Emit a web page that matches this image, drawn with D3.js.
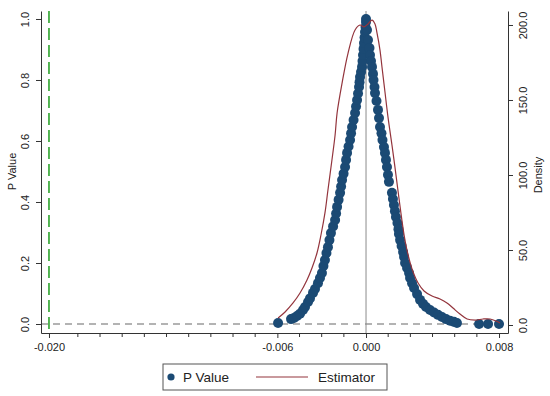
<!DOCTYPE html>
<html>
<head>
<meta charset="utf-8">
<script src="https://cdn.jsdelivr.net/npm/d3@7"></script>
<style>
  body { margin: 0; background: #fff; }
  text { font-family: "Liberation Sans", Arial, sans-serif; fill: #222; }
</style>
</head>
<body>
<svg id="chart" width="550" height="396"></svg>
<script>
// estimates and their p values
var pEstimates = [
  -0.00529, -0.00451, -0.00433, -0.00415, -0.00397, -0.00379, -0.00367, -0.00349, -0.00337, -0.00319,
  -0.00307, -0.00289, -0.00277, -0.00265, -0.00256, -0.00247, -0.00238, -0.00229, -0.00220, -0.00211,
  -0.00198, -0.00186, -0.00180, -0.00174, -0.00165, -0.00156, -0.00150, -0.00144, -0.00135, -0.00126,
  -0.00120, -0.00114, -0.00105, -0.00096, -0.00090, -0.00084, -0.00075, -0.00066, -0.00060, -0.00054,
  -0.00048, -0.00042, -0.00039, -0.00036, -0.00030, -0.00024, -0.00021, -0.00018, -0.00015, -0.00012,
  -0.00009, -0.00006, -0.00003, 0.00000, 0.00000,
  0.00006, 0.00012, 0.00021, 0.00024, 0.00030, 0.00036, 0.00042, 0.00045, 0.00051, 0.00054,
  0.00063, 0.00072, 0.00078, 0.00084, 0.00093, 0.00099, 0.00108, 0.00114, 0.00120, 0.00126,
  0.00132, 0.00138, 0.00156, 0.00162, 0.00168, 0.00174, 0.00180, 0.00189, 0.00195, 0.00198,
  0.00205, 0.00214, 0.00223, 0.00229, 0.00235, 0.00247, 0.00259, 0.00265, 0.00277, 0.00289,
  0.00307, 0.00325, 0.00343, 0.00361, 0.00385, 0.00409, 0.00433, 0.00457, 0.00481, 0.00505,
  0.00529, 0.00547, 0.00680, 0.00734, 0.00800
];
var pValues = [
  0.003, 0.016, 0.020, 0.026, 0.034, 0.046, 0.056, 0.072, 0.084, 0.102,
  0.115, 0.134, 0.151, 0.167, 0.190, 0.210, 0.233, 0.252, 0.275, 0.298,
  0.320, 0.341, 0.362, 0.384, 0.407, 0.430, 0.451, 0.472, 0.493, 0.515,
  0.538, 0.561, 0.582, 0.603, 0.625, 0.646, 0.669, 0.692, 0.713, 0.734,
  0.756, 0.777, 0.793, 0.810, 0.826, 0.843, 0.862, 0.882, 0.902, 0.921,
  0.939, 0.957, 0.974, 0.990, 1.000,
  0.964, 0.931, 0.905, 0.882, 0.862, 0.843, 0.820, 0.800, 0.777, 0.757,
  0.731, 0.702, 0.675, 0.646, 0.625, 0.603, 0.580, 0.561, 0.538, 0.515,
  0.489, 0.466, 0.430, 0.410, 0.390, 0.370, 0.351, 0.331, 0.311, 0.295,
  0.275, 0.256, 0.236, 0.220, 0.200, 0.184, 0.167, 0.151, 0.134, 0.118,
  0.098, 0.079, 0.066, 0.056, 0.046, 0.038, 0.030, 0.023, 0.016, 0.011,
  0.007, 0.003, 0.000, 0.000, 0.000
];

// kernel density of the estimator
var densityX = [
  -0.00529, -0.00487, -0.00439, -0.00397, -0.00355, -0.00325, -0.00295, -0.00271, -0.00247, -0.00229,
  -0.00205, -0.00186, -0.00174, -0.00144, -0.00108, -0.00066, -0.00036, -0.00012, 0.00012, 0.00036,
  0.00054, 0.00066, 0.00084, 0.00096, 0.00114, 0.00132, 0.00156, 0.00174, 0.00205, 0.00229,
  0.00253, 0.00283, 0.00313, 0.00349, 0.00397, 0.00445, 0.00487, 0.00523, 0.00565, 0.00608,
  0.00656, 0.00704, 0.00746, 0.00782, 0.00806
];
var densityY = [
  4.7, 8.7, 14.7, 21.3, 30.0, 38.0, 48.0, 60.0, 74.7, 90.0,
  110.0, 126.7, 141.3, 161.3, 181.3, 196.7, 200.0, 198.7, 200.7, 203.3,
  200.7, 194.7, 183.3, 172.0, 155.3, 138.7, 120.0, 105.3, 78.7, 60.0,
  46.7, 35.3, 28.0, 22.7, 19.3, 17.3, 14.7, 11.3, 7.3, 4.0,
  3.3, 4.0, 4.0, 2.7, 1.3
];

// axis labels
var xTickValues = [-0.01907, -0.005333, 0, 0.008];
var xTickLabels = ["-0.020", "-0.006", "0.000", "0.008"];
var xMinorTicks = [-0.017333, -0.016, -0.014667, -0.013333, -0.012, -0.010667, -0.009333, -0.008,
  -0.006667, -0.004, -0.002667, -0.001333, 0.001333, 0.002667, 0.004, 0.005333, 0.006667];
var pTicks = [0, 0.2, 0.4, 0.6, 0.8, 1.0];
var densityTicks = [0, 50, 100, 150, 200];
var thresholdX = -0.01907;

var svg = d3.select("#chart");
var plotLeft = 41, plotRight = 508, plotTop = 11, plotBottom = 333;

var x = d3.scaleLinear().domain([-0.01955, 0.00854]).range([plotLeft, plotRight]);
var yP = d3.scaleLinear().domain([-0.0295, 1.0262]).range([plotBottom, plotTop]);
var yD = d3.scaleLinear().domain([-5.33, 209.33]).range([plotBottom, plotTop]);

// reference lines
svg.append("line")
  .attr("x1", plotLeft).attr("x2", plotRight)
  .attr("y1", yP(0)).attr("y2", yP(0))
  .attr("stroke", "#9a9a9a").attr("stroke-width", 1.3)
  .attr("stroke-dasharray", "7,5");

svg.append("line")
  .attr("x1", x(0)).attr("x2", x(0))
  .attr("y1", plotTop).attr("y2", plotBottom)
  .attr("stroke", "#8c8c8c").attr("stroke-width", 1);

svg.append("line")
  .attr("x1", x(thresholdX)).attr("x2", x(thresholdX))
  .attr("y1", plotTop).attr("y2", plotBottom)
  .attr("stroke", "#1f9e1f").attr("stroke-width", 1.5)
  .attr("stroke-dasharray", "12,5");

// p value markers
var pts = pEstimates.map(function(d, i) { return [d, pValues[i]]; });
svg.append("g").selectAll("circle")
  .data(pts)
  .enter().append("circle")
  .attr("cx", function(d) { return x(d[0]); })
  .attr("cy", function(d) { return yP(d[1]); })
  .attr("r", 5)
  .attr("fill", "#1b4a74");

// density line
var line = d3.line()
  .x(function(d) { return x(d[0]); })
  .y(function(d) { return yD(d[1]); })
  .curve(d3.curveCatmullRom);

svg.append("path")
  .datum(densityX.map(function(d, i) { return [d, densityY[i]]; }))
  .attr("d", line)
  .attr("fill", "none")
  .attr("stroke", "#93343c")
  .attr("stroke-width", 1.2);

// axes
function styleAxis(g) {
  g.selectAll("path, line").attr("stroke", "#333");
  g.selectAll("text").style("font-size", "11px").attr("fill", "#222");
}

var gx = svg.append("g")
  .attr("transform", "translate(0," + plotBottom + ")")
  .call(d3.axisBottom(x).tickValues(xTickValues)
    .tickFormat(function(d, i) { return xTickLabels[i]; })
    .tickSize(5).tickSizeOuter(0));
gx.selectAll("line.minor")
  .data(xMinorTicks)
  .enter().append("line")
  .attr("class", "minor")
  .attr("x1", function(d) { return x(d); }).attr("x2", function(d) { return x(d); })
  .attr("y1", 0).attr("y2", 4);
styleAxis(gx);
gx.selectAll("text").attr("dy", "0.9em");

var gl = svg.append("g")
  .attr("transform", "translate(" + plotLeft + ",0)")
  .call(d3.axisLeft(yP).tickValues(pTicks).tickFormat(d3.format(".1f"))
    .tickSize(5).tickSizeOuter(0));
styleAxis(gl);
gl.selectAll(".tick text")
  .attr("x", null).attr("dy", null)
  .attr("text-anchor", "middle")
  .attr("transform", "translate(-12,0) rotate(-90)");

var gr = svg.append("g")
  .attr("transform", "translate(" + plotRight + ",0)")
  .call(d3.axisRight(yD).tickValues(densityTicks).tickFormat(d3.format(".1f"))
    .tickSize(5).tickSizeOuter(0));
styleAxis(gr);
gr.selectAll(".tick text")
  .attr("x", null).attr("dy", null)
  .attr("text-anchor", "middle")
  .attr("transform", "translate(19,0) rotate(-90)");

// axis titles
svg.append("text")
  .attr("transform", "translate(16," + yP(0.5) + ") rotate(-90)")
  .attr("text-anchor", "middle")
  .style("font-size", "11px")
  .text("P Value");

svg.append("text")
  .attr("transform", "translate(542," + yD(100) + ") rotate(-90)")
  .attr("text-anchor", "middle")
  .style("font-size", "11px")
  .text("Density");

// legend
var lg = svg.append("g");
lg.append("rect")
  .attr("x", 163).attr("y", 364).attr("width", 224).attr("height", 26)
  .attr("fill", "#fff").attr("stroke", "#555").attr("stroke-width", 1);
lg.append("circle").attr("cx", 171).attr("cy", 377).attr("r", 3.6).attr("fill", "#1b4a74");
lg.append("text").attr("x", 183).attr("y", 382).style("font-size", "13.5px").text("P Value");
lg.append("line").attr("x1", 256).attr("x2", 308).attr("y1", 377).attr("y2", 377)
  .attr("stroke", "#93343c").attr("stroke-width", 1.2);
lg.append("text").attr("x", 318).attr("y", 382).style("font-size", "13.5px").text("Estimator");
</script>
</body>
</html>
